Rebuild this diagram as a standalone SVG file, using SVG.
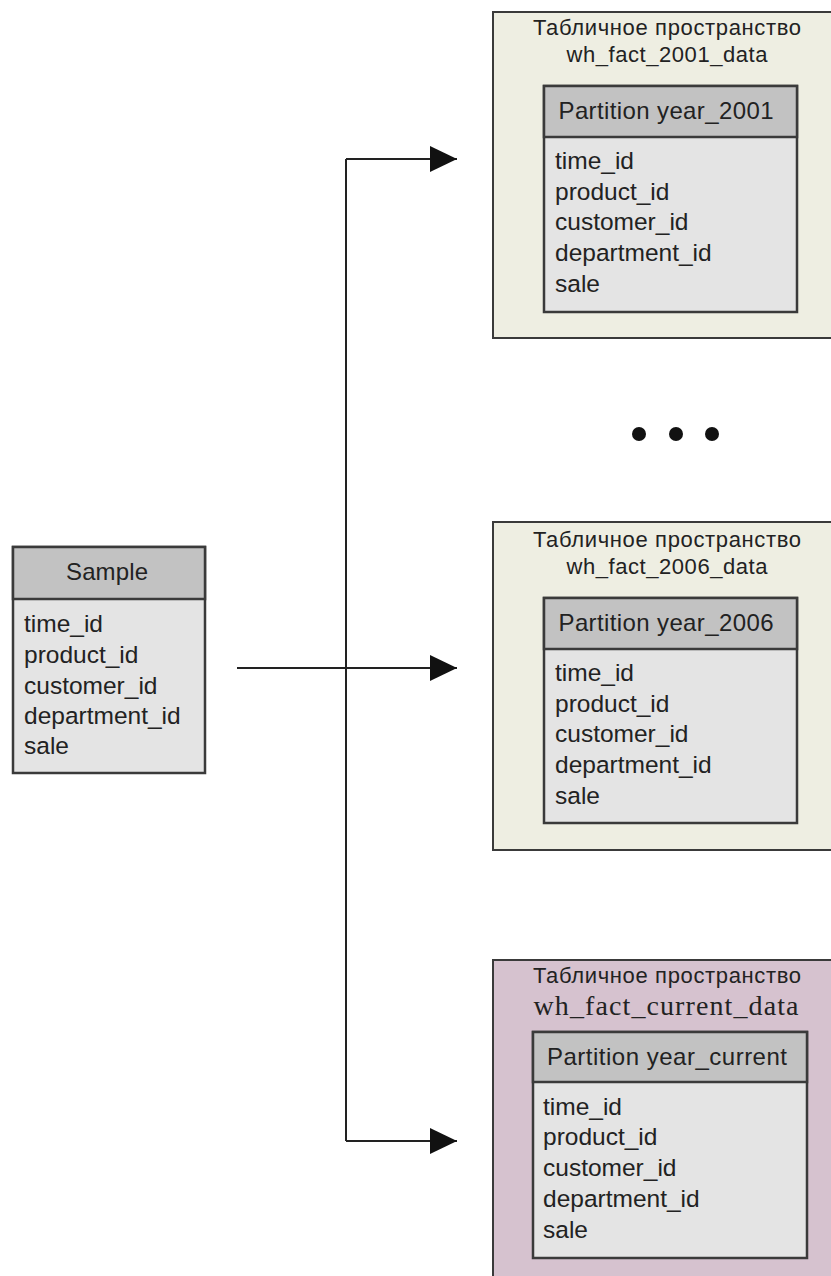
<svg xmlns="http://www.w3.org/2000/svg" width="831" height="1276" viewBox="0 0 831 1276">
<defs>
<style>
.ts{fill:#eeeee2;stroke:#3a3a3a;stroke-width:2}
.tsp{fill:#d6c2cf;stroke:#3a3a3a;stroke-width:2}
.hd{fill:#c2c2c2;stroke:#3a3a3a;stroke-width:2.5}
.bd{fill:#e4e4e4;stroke:#3a3a3a;stroke-width:2.5}
.t{font-family:"Liberation Sans",Arial,sans-serif;fill:#222}
.row{font-size:24.5px}
.ttl{font-size:22px}
.hdt{font-size:24px}
.ser{font-family:"Liberation Serif","Times New Roman",serif;font-size:28px;fill:#222}
.ln{fill:none;stroke:#222;stroke-width:2}
</style>
<marker id="arr" markerUnits="userSpaceOnUse" markerWidth="28" markerHeight="26" refX="27" refY="13" orient="auto">
<path d="M0,0 L27,13 L0,26 Z" fill="#111"/>
</marker>
</defs>
<rect width="831" height="1276" fill="#ffffff"/>

<g id="connectors">
<path class="ln" d="M346,159 V1141"/>
<path class="ln" d="M346,159 H457" marker-end="url(#arr)"/>
<path class="ln" d="M237,668 H457" marker-end="url(#arr)"/>
<path class="ln" d="M346,1141 H457" marker-end="url(#arr)"/>
</g>

<g id="dots" fill="#111">
<circle cx="639" cy="434" r="7"/>
<circle cx="676" cy="434" r="7"/>
<circle cx="712" cy="434" r="7"/>
</g>

<g id="sample">
<rect class="bd" x="13" y="547" width="192" height="226"/>
<rect class="hd" x="13" y="547" width="192" height="52"/>
<text class="t hdt" x="107" y="580" text-anchor="middle" textLength="82" lengthAdjust="spacing">Sample</text>
<text class="t row" x="24" y="632">time_id</text>
<text class="t row" x="24" y="663">product_id</text>
<text class="t row" x="24" y="694">customer_id</text>
<text class="t row" x="24" y="724">department_id</text>
<text class="t row" x="24" y="754">sale</text>
</g>

<g id="ts2001">
<rect class="ts" x="493" y="12" width="350" height="326"/>
<text class="t ttl" x="667" y="35" text-anchor="middle" textLength="268" lengthAdjust="spacing">Табличное пространство</text>
<text class="t ttl" x="667" y="62" text-anchor="middle" textLength="201" lengthAdjust="spacing">wh_fact_2001_data</text>
<g id="p2001">
<rect class="bd" x="544" y="86" width="253" height="226"/>
<rect class="hd" x="544" y="86" width="253" height="51"/>
<text class="t hdt" x="666" y="119" text-anchor="middle" textLength="215" lengthAdjust="spacing">Partition year_2001</text>
<text class="t row" x="555" y="169">time_id</text>
<text class="t row" x="555" y="200">product_id</text>
<text class="t row" x="555" y="230">customer_id</text>
<text class="t row" x="555" y="261">department_id</text>
<text class="t row" x="555" y="292">sale</text>
</g>
</g>

<g id="ts2006">
<rect class="ts" x="493" y="522" width="350" height="328"/>
<text class="t ttl" x="667" y="547" text-anchor="middle" textLength="268" lengthAdjust="spacing">Табличное пространство</text>
<text class="t ttl" x="667" y="574" text-anchor="middle" textLength="201" lengthAdjust="spacing">wh_fact_2006_data</text>
<g id="p2006">
<rect class="bd" x="544" y="598" width="253" height="225"/>
<rect class="hd" x="544" y="598" width="253" height="51"/>
<text class="t hdt" x="666" y="631" text-anchor="middle" textLength="215" lengthAdjust="spacing">Partition year_2006</text>
<text class="t row" x="555" y="681">time_id</text>
<text class="t row" x="555" y="712">product_id</text>
<text class="t row" x="555" y="742">customer_id</text>
<text class="t row" x="555" y="773">department_id</text>
<text class="t row" x="555" y="804">sale</text>
</g>
</g>

<g id="tscurrent">
<rect class="tsp" x="493" y="960" width="350" height="330"/>
<text class="t ttl" x="667" y="983" text-anchor="middle" textLength="268" lengthAdjust="spacing">Табличное пространство</text>
<text class="ser" x="666" y="1015" text-anchor="middle" textLength="265" lengthAdjust="spacing">wh_fact_current_data</text>
<g id="pcurrent">
<rect class="bd" x="533" y="1032" width="274" height="226"/>
<rect class="hd" x="533" y="1032" width="274" height="50"/>
<text class="t hdt" x="667" y="1065" text-anchor="middle" textLength="240" lengthAdjust="spacing">Partition year_current</text>
<text class="t row" x="543" y="1115">time_id</text>
<text class="t row" x="543" y="1145">product_id</text>
<text class="t row" x="543" y="1176">customer_id</text>
<text class="t row" x="543" y="1207">department_id</text>
<text class="t row" x="543" y="1238">sale</text>
</g>
</g>
</svg>
